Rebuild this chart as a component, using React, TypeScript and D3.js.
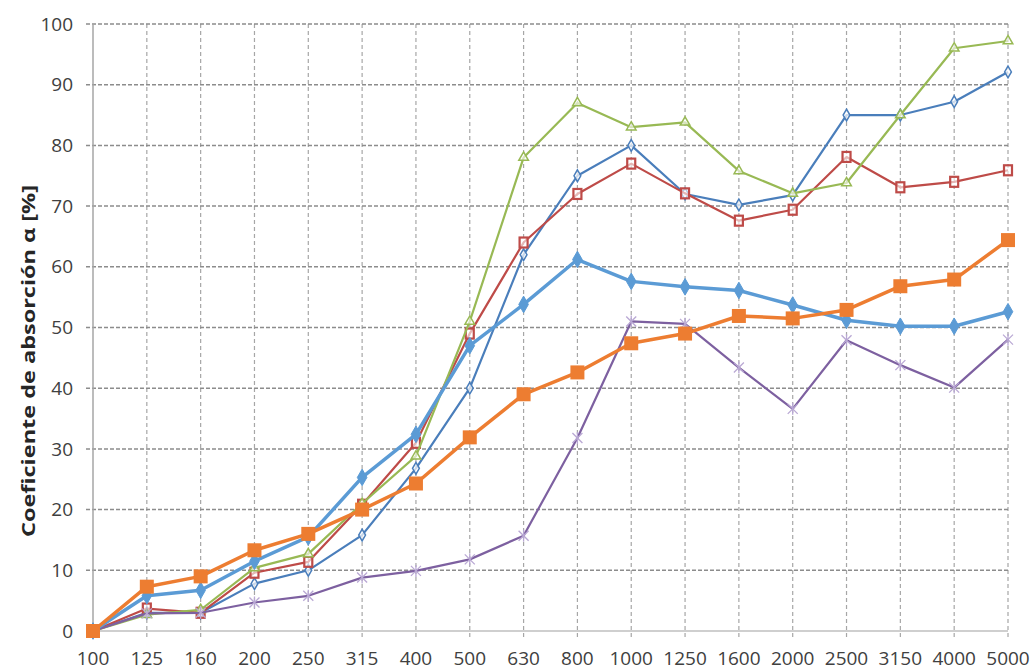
import React from "react";
import * as d3 from "d3";

const categories = ["100","125","160","200","250","315","400","500","630","800","1000","1250","1600","2000","2500","3150","4000","5000"];
const yTicks = [0,10,20,30,40,50,60,70,80,90,100];

const seriesBlue = [0,3,3,7.8,10,15.8,26.8,40,62,75,80,72,70.2,71.8,85,85,87.2,92.1];
const seriesRed = [0,3.7,3,9.6,11.4,20.8,31,49,64,72,77,72.1,67.6,69.4,78.1,73.1,74,75.9];
const seriesGreen = [0,2.7,3.5,10.4,12.7,21,28.8,51,78,87,83,83.8,75.8,72.1,73.8,85,96,97.2];
const seriesPurple = [0,2.9,3,4.7,5.8,8.8,9.9,11.8,15.7,31.8,51,50.6,43.4,36.6,47.9,43.8,40.1,48];
const seriesLightBlue = [0,5.8,6.7,11.5,15.5,25.3,32.4,47,53.8,61.2,57.6,56.7,56.1,53.7,51.2,50.2,50.2,52.6];
const seriesOrange = [0,7.3,9,13.3,16,20,24.3,31.9,39,42.6,47.4,49,51.9,51.5,52.9,56.8,57.9,64.4];

const W = 1033, H = 672;
const left = 93, right = 1008, top = 24, bottom = 631;

const x = d3.scalePoint<string>().domain(categories).range([left, right]).padding(0);
const y = d3.scaleLinear().domain([0, 100]).range([bottom, top]);

type Series = { name: string; values: number[]; color: string; width: number; marker: string };
const series: Series[] = [
  { name: "a", values: seriesBlue, color: "#4a7ebb", width: 2.2, marker: "diamondHollow" },
  { name: "b", values: seriesRed, color: "#be4b48", width: 2.2, marker: "rectHollow" },
  { name: "c", values: seriesGreen, color: "#98b954", width: 2.2, marker: "triHollow" },
  { name: "d", values: seriesPurple, color: "#7d60a0", width: 2.2, marker: "x" },
  { name: "e", values: seriesLightBlue, color: "#5b9bd5", width: 3.5, marker: "diamond" },
  { name: "f", values: seriesOrange, color: "#ed7d31", width: 3.5, marker: "square" },
];

const line = d3.line<number>().x((_, i) => x(categories[i]) as number).y((v) => y(v));

function Marker({ kind, cx, cy, color }: { kind: string; cx: number; cy: number; color: string }) {
  switch (kind) {
    case "diamondHollow": {
      const p = d3.symbol(d3.symbolDiamond, 40)();
      return <path d={p || ""} transform={`translate(${cx},${cy})`} fill="#fff" fillOpacity={0.7} stroke={color} strokeWidth={1.5} />;
    }
    case "rectHollow":
      return <rect x={cx - 4} y={cy - 5} width={8} height={10} fill="#fff" fillOpacity={0.6} stroke={color} strokeWidth={2.2} />;
    case "triHollow": {
      const p = d3.symbol(d3.symbolTriangle, 40)();
      return <path d={p || ""} transform={`translate(${cx},${cy})`} fill="#fff" fillOpacity={0.6} stroke={color} strokeWidth={1.5} />;
    }
    case "x":
      return (
        <g transform={`translate(${cx},${cy})`} stroke="#b9a8d4" strokeWidth={1.3}>
          <line x1={-5} y1={-5} x2={5} y2={5} />
          <line x1={-5} y1={5} x2={5} y2={-5} />
          <line x1={0} y1={-6} x2={0} y2={6} />
        </g>
      );
    case "diamond": {
      const p = d3.symbol(d3.symbolDiamond, 80)();
      return <path d={p || ""} transform={`translate(${cx},${cy})`} fill={color} stroke={color} strokeWidth={1} />;
    }
    case "square":
      return <rect x={cx - 7} y={cy - 7} width={14} height={14} fill={color} />;
  }
  return null;
}

export default function App() {
  const font = "'Open Sans', 'Liberation Sans', sans-serif";
  return (
    <svg width={W} height={H} style={{ position: "absolute", left: 0, top: 0, background: "#fff" }}>
      {/* vertical gridlines */}
      {categories.slice(1).map((c) => (
        <line key={"v" + c} x1={x(c)} x2={x(c)} y1={top} y2={bottom + 6} stroke="#a6a6a6" strokeWidth={1.2} strokeDasharray="4,3" />
      ))}
      {/* horizontal gridlines */}
      {yTicks.slice(1).map((t) => (
        <line key={"h" + t} x1={left - 7} x2={right} y1={y(t)} y2={y(t)} stroke="#8c8c8c" strokeWidth={1.5} strokeDasharray="4,2" />
      ))}
      {/* axes */}
      <line x1={left} x2={left} y1={top} y2={bottom} stroke="#a6a6a6" strokeWidth={1.5} />
      <line x1={left - 7} x2={right} y1={bottom} y2={bottom} stroke="#bfbfbf" strokeWidth={1.5} />
      {/* y tick labels */}
      {yTicks.map((t) => (
        <text key={"yl" + t} x={73} y={y(t)} dy="0.35em" textAnchor="end" fontFamily={font} fontSize={19} fill="#404040">{t}</text>
      ))}
      {/* x tick labels */}
      {categories.map((c) => (
        <text key={"xl" + c} x={x(c)} y={658} dy="0.35em" textAnchor="middle" fontFamily={font} fontSize={19} fill="#404040">{c}</text>
      ))}
      {/* y axis title */}
      <text transform={`translate(35,361) rotate(-90)`} textAnchor="middle" fontFamily={font} fontSize={18} fontWeight="bold" fill="#262626" textLength={352} lengthAdjust="spacingAndGlyphs">
        Coeficiente de absorción α [%]
      </text>
      {/* series */}
      {series.map((s) => (
        <g key={s.name}>
          <path d={line(s.values) || ""} fill="none" stroke={s.color} strokeWidth={s.width} strokeLinejoin="round" />
          {s.values.map((v, i) => (
            <Marker key={i} kind={s.marker} cx={x(categories[i]) as number} cy={y(v)} color={s.color} />
          ))}
        </g>
      ))}
    </svg>
  );
}
